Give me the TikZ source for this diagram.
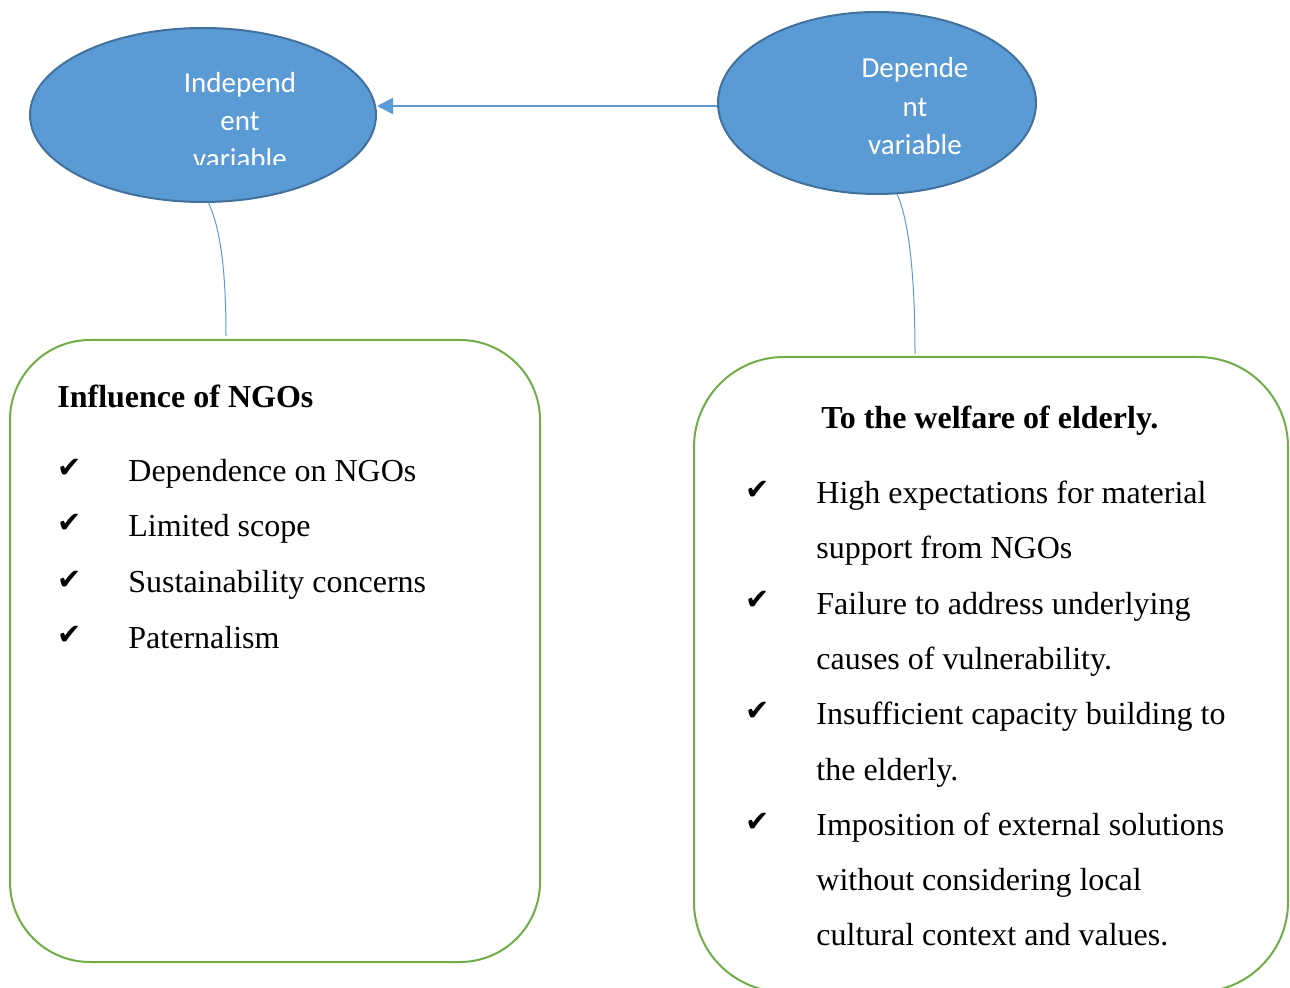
\documentclass[tikz,border=0pt]{standalone}
\usepackage{fontspec}
\setmainfont{Liberation Serif}
\newfontfamily\calibri{Carlito}
\newfontfamily\dejavu{DejaVu Sans}
\usetikzlibrary{shapes.geometric,arrows.meta,calc}
\definecolor{ellfill}{HTML}{5B9BD5}
\definecolor{elldraw}{HTML}{41719C}
\definecolor{boxgreen}{HTML}{70AD47}
\tikzset{
  varell/.style={ellipse, fill=ellfill, draw=elldraw, line width=1pt, inner sep=0pt},
  elltext/.style={anchor=base, text=white, font=\calibri\fontsize{14.5}{17}\selectfont, inner sep=0pt},
  greenbox/.style={draw=boxgreen, line width=1pt, rectangle, inner sep=0pt},
  title/.style={anchor=base west, font=\bfseries\fontsize{16}{19}\selectfont, inner sep=0pt},
  item/.style={anchor=base west, font=\fontsize{16}{19}\selectfont, inner sep=0pt},
  chk/.style={anchor=base west, font=\dejavu\fontsize{14.5}{17}\selectfont, inner sep=0pt},
  link/.style={draw=ellfill, line width=0.5pt},
  mainarrow/.style={draw=ellfill, line width=1pt, -{Triangle[length=8pt,width=8pt]}}
}
\begin{document}
\begin{tikzpicture}[x=0.5pt,y=-0.5pt]
\useasboundingbox (0,0) rectangle (1290,988);
% ellipses
\node[varell, minimum width=173pt, minimum height=87pt] (indep) at (203,115) {};
\node[varell, minimum width=159pt, minimum height=91pt] (dep) at (877,103) {};
\begin{scope}
\clip (0,0) rectangle (1290,165);
\node[elltext] (i1) at (240,93) {Independ};
\node[elltext] (i2) at (240,131) {ent};
\node[elltext] (i3) at (240,169) {variable};
\end{scope}
\node[elltext] (d1) at (915,78) {Depende};
\node[elltext] (d2) at (915,117) {nt};
\node[elltext] (d3) at (915,155) {variable};
% arrow
\coordinate (astart) at ($(dep.west)+(0,3)$);
\draw[mainarrow] (astart) -- (astart -| indep.east);
% boxes
\node[greenbox, rounded corners=40pt, minimum width=265pt, minimum height=311pt] (lbox) at (275,651) {};
\node[greenbox, rounded corners=45pt, minimum width=297pt, minimum height=317.5pt] (rbox) at (991,674.5) {};
% connectors
\coordinate (la) at (208,202);
\coordinate (lb) at (226,336);
\coordinate (ra) at (897,194);
\coordinate (rb) at (915,354);
\draw[link] (la) .. controls (222,230) and (226,280) .. (lb);
\draw[link] (ra) .. controls (911,225) and (915,290) .. (rb);
% left box text
\node[title] (lt) at (57,408) {Influence of NGOs};
\node[chk] (lc1) at (57,478) {✔};
\node[chk] (lc2) at (57,533) {✔};
\node[chk] (lc3) at (57,589) {✔};
\node[chk] (lc4) at (57,644) {✔};
\node[item] (l1) at (128,482) {Dependence on NGOs};
\node[item] (l2) at (128,537) {Limited scope};
\node[item] (l3) at (128,593) {Sustainability concerns};
\node[item] (l4) at (128,648) {Paternalism};
% right box text
\node[title] (rt) at (821,429) {To the welfare of elderly.};
\node[chk] (rc1) at (745,500) {✔};
\node[chk] (rc2) at (745,610) {✔};
\node[chk] (rc3) at (745,720) {✔};
\node[chk] (rc4) at (745,831) {✔};
\node[item] (r1) at (816,504) {High expectations for material};
\node[item] (r2) at (816,559) {support from NGOs};
\node[item] (r3) at (816,614) {Failure to address underlying};
\node[item] (r4) at (816,669) {causes of vulnerability.};
\node[item] (r5) at (816,724) {Insufficient capacity building to};
\node[item] (r6) at (816,780) {the elderly.};
\node[item] (r7) at (816,835) {Imposition of external solutions};
\node[item] (r8) at (816,890) {without considering local};
\node[item] (r9) at (816,945) {cultural context and values.};
\end{tikzpicture}
\end{document}
